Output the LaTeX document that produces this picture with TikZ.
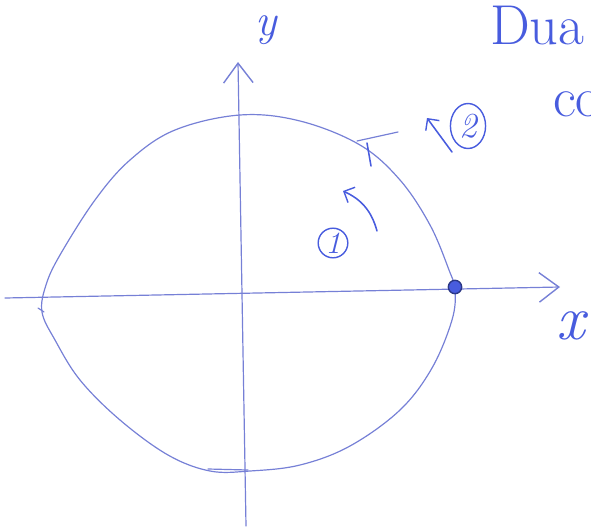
\documentclass[tikz,border=0pt]{standalone}
\usepackage{fontspec}
\usetikzlibrary{arrows.meta,shapes.geometric}
\definecolor{pen}{RGB}{72,92,222}
\definecolor{penlight}{RGB}{118,128,214}
\tikzset{
  sketch/.style={penlight,line width=1.7pt,line cap=round,line join=round},
  ink/.style={pen,line width=2.2pt,line cap=round,line join=round},
  barb/.style={-{Straight Barb[length=28pt,width=42pt,line width=2pt]}},
  circnum/.style={circle,draw=pen,line width=2pt,inner sep=2pt,text=pen,font=\fontsize{44}{46}\selectfont\itshape}
}
\begin{document}
\begin{tikzpicture}[x=0.05cm,y=-0.05cm]
  \useasboundingbox (0,0) rectangle (591,530);
  \clip (0,0) rectangle (591,530);
  % axes
  \coordinate (xl) at (5,298);
  \coordinate (xr) at (560,287);
  \coordinate (yb) at (246,526);
  \coordinate (yt) at (238,62);
  \draw[sketch,barb] (xl) -- (xr);
  \draw[sketch,barb] (yb) -- (yt);
  \node[pen,font=\fontsize{64}{66}\selectfont\itshape] (ylab) at (266,30) {y};
  \node[pen,font=\fontsize{90}{92}\selectfont\itshape] (xlab) at (571,326) {x};
  % the circle
  \draw[sketch] plot[smooth cycle,tension=0.6] coordinates {
    (240,115) (300,121) (360,145) (400,180) (430,225) (449,270)
    (455,290) (452,320) (432,368) (400,410) (350,446) (300,465)
    (250,471) (210,471) (168,455) (120,420) (80,380) (55,340)
    (42,312) (46,285) (60,255) (95,200) (130,160) (175,130)};
  \draw[sketch] (357,141) -- (398,132);
  \draw[ink] (367,143) -- (371,166);
  \draw[sketch] (38,308) -- (44,312);
  \draw[sketch] (208,469) -- (248,470);
  % start point
  \node[circle,fill=pen,draw=pen!60!black,line width=2pt,minimum width=19pt,inner sep=0pt] (p0) at (455,287) {};
  % turn 1
  \node[circnum] (n1) at (333,243) {1};
  \coordinate (a1s) at (377,231);
  \coordinate (a1e) at (343,191);
  \draw[ink,-{Straight Barb[length=12pt,width=24pt,line width=2pt]}] (a1s) to[bend right=25] (a1e);
  % turn 2
  \node[circnum,ellipse,minimum width=50pt,minimum height=64pt,inner sep=0pt,font=\fontsize{50}{52}\selectfont\itshape] (n2) at (468,126) {2};
  \coordinate (a2s) at (452,152);
  \coordinate (a2e) at (427,118);
  \draw[ink,-{Straight Barb[length=12pt,width=24pt,line width=2pt]}] (a2s) -- (a2e);
  % title, cut off at the edge
  \node[pen,anchor=south west,inner sep=0pt,font=\fontsize{80}{82}\selectfont] (title) at (490,45) {Dua};
  \node[pen,anchor=south west,inner sep=0pt,font=\fontsize{80}{82}\selectfont] (sub) at (553,117) {co};
\end{tikzpicture}
\end{document}
